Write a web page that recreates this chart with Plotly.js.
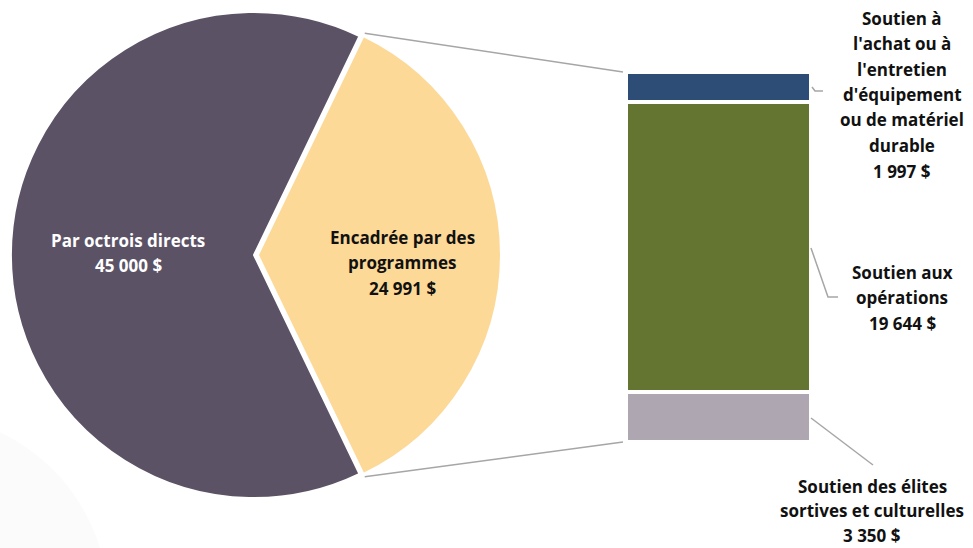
<!DOCTYPE html>
<html>
<head>
<meta charset="utf-8">
<script src="https://cdn.plot.ly/plotly-3.0.1.min.js"></script>
<style>html,body{margin:0;padding:0;background:#fff;}#chart{width:973px;height:548px;}</style>
</head>
<body>
<div id="chart"></div>
<script>
// ---- data ----
const pieLabels = ['Encadrée par des<br>programmes', 'Par octrois directs'];
const pieValues = [24991, 45000];
const pieColors = ['#fdd998', '#5c5266'];

const barLabels = ['Soutien des élites<br>sortives et culturelles', 'Soutien aux<br>opérations', "Soutien à<br>l'achat ou à<br>l'entretien<br>d'équipement<br>ou de matériel<br>durable"];
const barValues = [3350, 19644, 1997];
const barColors = ['#aea7b2', '#637531', '#2e4d76'];

// ---- helpers ----
const W = 973, H = 548;
const px = x => x / W;
const py = y => 1 - y / H;
const fmt = v => String(v).replace(/\B(?=(\d{3})+(?!\d))/g, ' ') + ' $';

// pie geometry (pixels)
const pull = 0.016;
const pieDomX = [7, 501], pieDomY = [8, 502];
const cx = (pieDomX[0] + pieDomX[1]) / 2, cy = (pieDomY[0] + pieDomY[1]) / 2;
const R = Math.min(pieDomX[1] - pieDomX[0], pieDomY[1] - pieDomY[0]) / 2 / (1 + pull);
const total = pieValues.reduce((a, b) => a + b, 0);
const half = Math.PI * pieValues[0] / total; // half angle of first slice, centred on 3 o'clock
const rotation = 90 - half * 180 / Math.PI;

// bar geometry (pixels)
const barDomX = [626, 811], barDomY = [72, 442];
const barTotal = barValues.reduce((a, b) => a + b, 0);

const traces = [
  {
    type: 'pie', values: pieValues, labels: pieLabels, sort: false, direction: 'clockwise',
    rotation: rotation, pull: [pull, 0],
    marker: {colors: pieColors, line: {color: '#ffffff', width: 2}},
    textinfo: 'none', hoverinfo: 'none', showlegend: false,
    domain: {x: [px(pieDomX[0]), px(pieDomX[1])], y: [py(pieDomY[1]), py(pieDomY[0])]}
  }
];
barValues.forEach((v, i) => {
  traces.push({
    type: 'bar', x: [0], y: [v], name: barLabels[i], width: 1,
    marker: {color: barColors[i], line: {color: '#ffffff', width: 4}},
    xaxis: 'x', yaxis: 'y', showlegend: false, hoverinfo: 'none', textposition: 'none'
  });
});

// connector lines from pie slice edges to bar corners
const pullOff = R * pull;
const edgeUp = [cx + pullOff + (R + 3) * Math.cos(half), cy - (R + 3) * Math.sin(half)];
const edgeDn = [cx + pullOff + (R + 3) * Math.cos(half), cy + (R + 3) * Math.sin(half)];
const barLeft = barDomX[0] - 3;
const lineStyle = {color: '#a6a6a6', width: 1.5};
const shapes = [
  {type: 'path', xref: 'paper', yref: 'paper', layer: 'below', line: {width: 0}, fillcolor: '#fbfbfb',
   path: `M 0 ${py(432)} Q ${px(75)} ${py(470)} ${px(100)} ${py(548)} L 0 ${py(548)} Z`},
  {type: 'line', xref: 'paper', yref: 'paper', x0: px(edgeUp[0]), y0: py(edgeUp[1]), x1: px(barLeft), y1: py(barDomY[0]), line: lineStyle},
  {type: 'line', xref: 'paper', yref: 'paper', x0: px(edgeDn[0]), y0: py(edgeDn[1]), x1: px(barLeft), y1: py(barDomY[1]), line: lineStyle},
  // leader lines
  {type: 'path', xref: 'paper', yref: 'paper', line: lineStyle, path: `M ${px(812)} ${py(87)} L ${px(815)} ${py(91)} L ${px(823)} ${py(91)}`},
  {type: 'path', xref: 'paper', yref: 'paper', line: lineStyle, path: `M ${px(811)} ${py(248)} L ${px(828)} ${py(297)} L ${px(838)} ${py(297)}`},
  {type: 'path', xref: 'paper', yref: 'paper', line: lineStyle, path: `M ${px(811)} ${py(418)} L ${px(873)} ${py(465)}`}
];

// labels, one annotation per line
const FONT = '"Open Sans", Lato, sans-serif';
const LH = 25.5;
const annotations = [];
function addLabel(text, value, x, y0, color, lh) {
  const lines = text.split('<br>').concat([fmt(value)]);
  lines.forEach((t, k) => annotations.push({
    xref: 'paper', yref: 'paper', x: px(x), y: py(y0 + k * (lh || LH)), text: t, showarrow: false,
    xanchor: 'center', yanchor: 'middle', font: {family: FONT, size: 17, color: color, weight: 'bold'}
  }));
}
addLabel(pieLabels[1], pieValues[1], 128, 240, '#ffffff');
addLabel(pieLabels[0], pieValues[0], 402, 237, '#111111');
addLabel(barLabels[2], barValues[2], 902, 18, '#111111');
addLabel(barLabels[1], barValues[1], 902, 272, '#111111');
addLabel(barLabels[0], barValues[0], 872, 486, '#111111', 24.5);

const layout = {
  width: W, height: H, margin: {l: 0, r: 0, t: 0, b: 0},
  paper_bgcolor: '#ffffff', plot_bgcolor: 'rgba(0,0,0,0)',
  barmode: 'stack', bargap: 0,
  xaxis: {domain: [px(barDomX[0]), px(barDomX[1])], range: [-0.5, 0.5], visible: false, fixedrange: true},
  yaxis: {domain: [py(barDomY[1]), py(barDomY[0])], range: [0, barTotal], visible: false, fixedrange: true},
  shapes: shapes, annotations: annotations
};

Plotly.newPlot('chart', traces, layout, {staticPlot: true, displayModeBar: false});
</script>
</body>
</html>
